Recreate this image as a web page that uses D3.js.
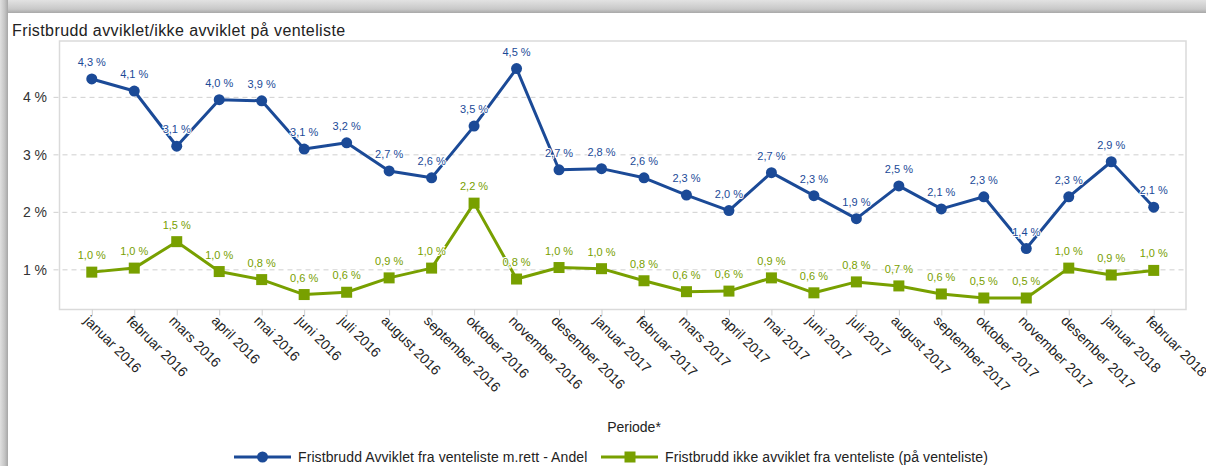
<!DOCTYPE html>
<html>
<head>
<meta charset="utf-8">
<script src="https://cdn.jsdelivr.net/npm/d3@7"></script>
<style>
  html, body { margin: 0; padding: 0; background: #fff; }
  svg { display: block; font-family: "Liberation Sans", Arial, sans-serif; }
</style>
</head>
<body>
<svg id="chart" width="1206" height="466"></svg>
<script>
const categories = [
  "januar 2016","februar 2016","mars 2016","april 2016","mai 2016","juni 2016",
  "juli 2016","august 2016","september 2016","oktober 2016","november 2016","desember 2016",
  "januar 2017","februar 2017","mars 2017","april 2017","mai 2017","juni 2017",
  "juli 2017","august 2017","september 2017","oktober 2017","november 2017","desember 2017",
  "januar 2018","februar 2018"
];
const avviklet = [4.32,4.11,3.15,3.96,3.94,3.10,3.21,2.72,2.60,3.50,4.50,2.74,
                  2.76,2.60,2.30,2.03,2.69,2.29,1.89,2.46,2.06,2.27,1.37,2.27,2.88,2.09];
const ikkeAvviklet = [0.96,1.03,1.49,0.97,0.83,0.57,0.61,0.86,1.03,2.16,0.84,1.04,
                      1.02,0.81,0.62,0.63,0.86,0.60,0.79,0.72,0.58,0.51,0.51,1.03,0.91,0.99];
const yTicks = [1,2,3,4];
const title = "Fristbrudd avviklet/ikke avviklet på venteliste";
const xTitle = "Periode*";
const seriesNames = ["Fristbrudd Avviklet fra venteliste m.rett - Andel",
                     "Fristbrudd ikke avviklet fra venteliste (på venteliste)"];
const colors = ["#1b4a97", "#78a000"];

const svg = d3.select("#chart");

// frame / shadow
const defs = svg.append("defs");
const gTop = defs.append("linearGradient").attr("id","gt").attr("x1",0).attr("y1",0).attr("x2",0).attr("y2",1);
gTop.append("stop").attr("offset","0%").attr("stop-color","#e2e2e2");
gTop.append("stop").attr("offset","70%").attr("stop-color","#c8c8c8");
gTop.append("stop").attr("offset","100%").attr("stop-color","#a8a8a8");
const gLeft = defs.append("linearGradient").attr("id","gl").attr("x1",0).attr("y1",0).attr("x2",1).attr("y2",0);
gLeft.append("stop").attr("offset","0%").attr("stop-color","#e0e0e0");
gLeft.append("stop").attr("offset","60%").attr("stop-color","#c4c4c4");
gLeft.append("stop").attr("offset","100%").attr("stop-color","#a6a6a6");
svg.append("rect").attr("x",0).attr("y",0).attr("width",1206).attr("height",13).attr("fill","url(#gt)");
svg.append("rect").attr("x",0).attr("y",0).attr("width",8).attr("height",466).attr("fill","url(#gl)");

const pLeft = 59.5, pRight = 1186, pTop = 41, pBottom = 309.5;

const x = d3.scalePoint().domain(categories).range([pLeft, pRight]).padding(0.76);
const y = d3.scaleLinear().domain([0.31, 4.98]).range([pBottom, pTop]);

// title
svg.append("text").attr("x", 12).attr("y", 36).attr("font-size", 16).attr("fill", "#222")
  .style("letter-spacing", "0.4px").text(title);

// gridlines
svg.append("g").selectAll("line").data(yTicks).join("line")
  .attr("x1", pLeft - 6).attr("x2", pRight).attr("y1", d => y(d)).attr("y2", d => y(d))
  .attr("stroke", "#cfcfcf").attr("stroke-dasharray", "5,4").attr("stroke-width", 1);

// plot border
svg.append("rect").attr("x", pLeft).attr("y", pTop).attr("width", pRight - pLeft).attr("height", pBottom - pTop)
  .attr("fill", "none").attr("stroke", "#dadada").attr("stroke-width", 1.5);

// y axis labels
svg.append("g").selectAll("text").data(yTicks).join("text")
  .attr("x", 47).attr("y", d => y(d) + 5).attr("text-anchor", "end")
  .attr("font-size", 14).attr("fill", "#333").text(d => d + " %");

// x axis
const xAxis = d3.axisBottom(x).tickSize(6).tickSizeOuter(0).tickPadding(5);
const gx = svg.append("g").attr("transform", `translate(0,${pBottom})`).call(xAxis);
gx.select(".domain").remove();
gx.selectAll(".tick line").attr("stroke", "#cfcfcf");
gx.selectAll(".tick text")
  .attr("font-size", 14).attr("fill", "#222").attr("font-family", "'Liberation Sans', Arial, sans-serif")
  .attr("text-anchor", "start").attr("dy", null).attr("y", 0)
  .attr("transform", "translate(-9,12) rotate(45)");

svg.append("text").attr("x", 634).attr("y", 432).attr("text-anchor", "middle")
  .attr("font-size", 14).attr("fill", "#222").text(xTitle);

const fmt = v => d3.format(".1f")(v).replace(".", ",") + " %";
const line = d3.line().x((d, i) => x(categories[i])).y(d => y(d));

[avviklet, ikkeAvviklet].forEach((data, s) => {
  const g = svg.append("g");
  g.append("path").datum(data).attr("d", line).attr("fill", "none")
    .attr("stroke", colors[s]).attr("stroke-width", 3).attr("stroke-linejoin", "round");
  if (s === 0) {
    g.selectAll("circle").data(data).join("circle")
      .attr("cx", (d, i) => x(categories[i])).attr("cy", d => y(d)).attr("r", 5.5)
      .attr("fill", colors[s]);
  } else {
    g.selectAll("rect").data(data).join("rect")
      .attr("x", (d, i) => x(categories[i]) - 5.5).attr("y", d => y(d) - 5.5)
      .attr("width", 11).attr("height", 11).attr("fill", colors[s]);
  }
  g.selectAll("text").data(data).join("text")
    .attr("x", (d, i) => x(categories[i])).attr("y", d => y(d) - 13)
    .attr("text-anchor", "middle").attr("font-size", 11).attr("fill", colors[s])
    .attr("stroke", "#fff").attr("stroke-width", 2).attr("paint-order", "stroke")
    .text(d => fmt(d));
});

// legend
const legend = [{x: 234, name: seriesNames[0], shape: "circle"}, {x: 601, name: seriesNames[1], shape: "rect"}];
legend.forEach((l, s) => {
  const g = svg.append("g");
  const ly = 457;
  g.append("line").attr("x1", l.x).attr("x2", l.x + 57).attr("y1", ly).attr("y2", ly)
    .attr("stroke", colors[s]).attr("stroke-width", 3);
  if (l.shape === "circle") {
    g.append("circle").attr("cx", l.x + 28.5).attr("cy", ly).attr("r", 5.5).attr("fill", colors[s]);
  } else {
    g.append("rect").attr("x", l.x + 23.5).attr("y", ly - 5.5).attr("width", 11).attr("height", 11).attr("fill", colors[s]);
  }
  g.append("text").attr("x", l.x + 64).attr("y", ly + 5).attr("font-size", 14).attr("fill", "#222")
    .style("letter-spacing", "0.1px").text(l.name);
});
</script>
</body>
</html>
